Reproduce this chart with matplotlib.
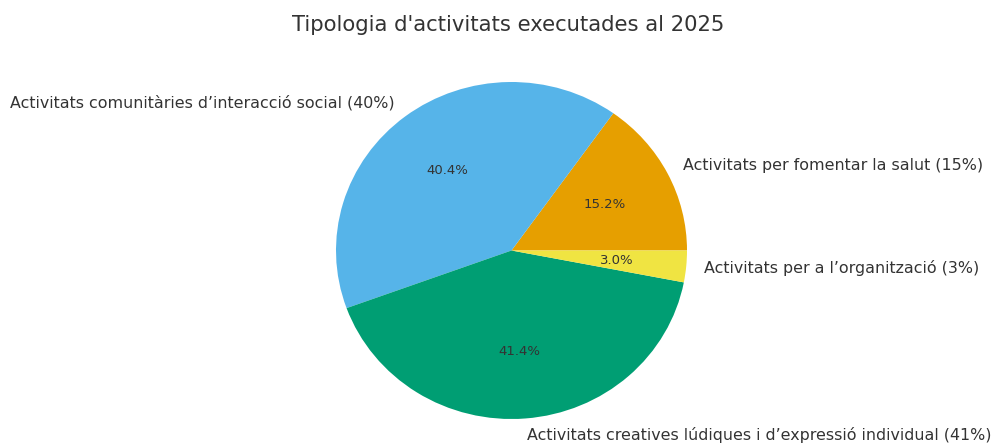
import matplotlib.pyplot as plt

# Data ------------------------------------------------------------------------
labels = [
    "Activitats per fomentar la salut (15%)",
    "Activitats comunitàries d’interacció social (40%)",
    "Activitats creatives lúdiques i d’expressió individual (41%)",
    "Activitats per a l’organització (3%)",
]
counts = [15, 40, 41, 3]
colors = ["#E69F00", "#56B4E9", "#009E73", "#F0E442"]

TEXT = "#333333"

# Plot ------------------------------------------------------------------------
fig = plt.figure(figsize=(9.92, 4.44), dpi=100)
W, H = 992, 444
cx, cy = 511.5, 250.5      # pie centre in pixels (from top-left)
rx, ry = 175.5, 168.5      # reference is slightly stretched horizontally
hw, hh = 1.25 * rx, 1.25 * ry
ax = fig.add_axes([(cx - hw) / W, (H - cy - hh) / H, 2 * hw / W, 2 * hh / H])

wedges, texts, autotexts = ax.pie(
    counts, labels=labels, colors=colors, autopct="%1.1f%%",
    startangle=0, textprops={"color": TEXT, "fontsize": 11.4})
for t in autotexts:
    t.set_fontsize(9.5)
ax.set_xlim(-1.25, 1.25)
ax.set_ylim(-1.25, 1.25)
ax.set_aspect("auto")

fig.text(0.512, 1 - 25 / H, "Tipologia d'activitats executades al 2025",
         ha="center", va="center", fontsize=15.2, color=TEXT)

fig.savefig("out.png", dpi=100)
